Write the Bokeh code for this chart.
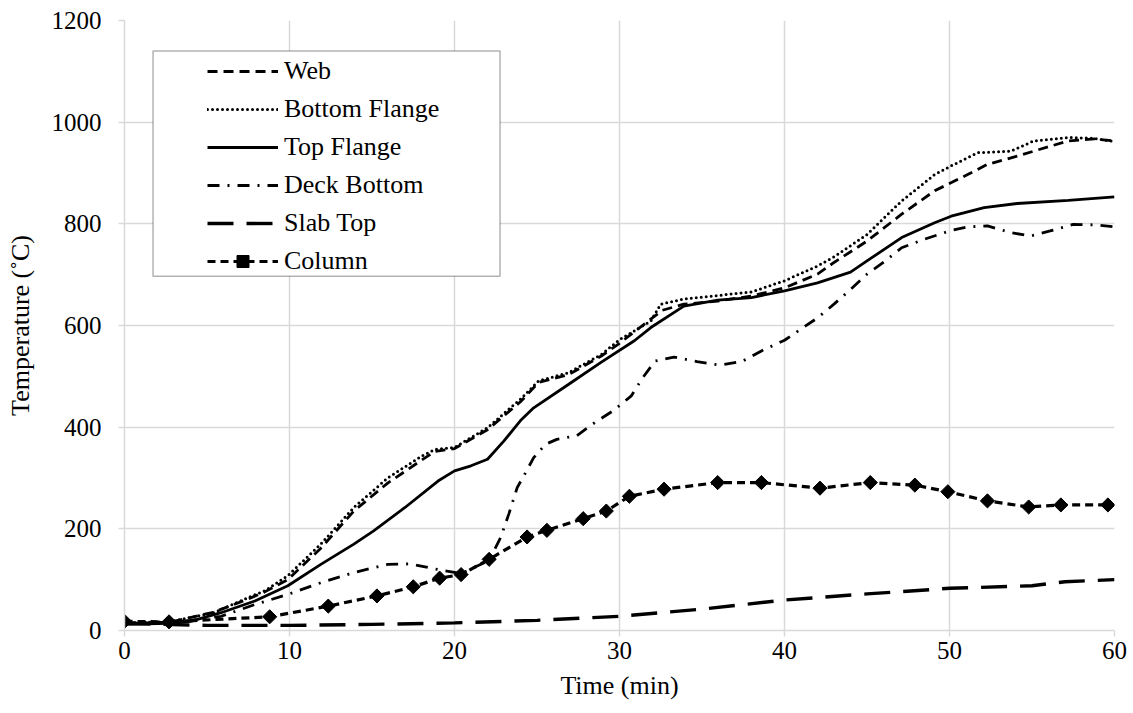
import math
from bokeh.plotting import figure
from bokeh.models import Legend, LegendItem, BoxAnnotation, FixedTicker
from bokeh.embed import file_html
from bokeh.resources import INLINE

# ---------------- data ----------------
web_t = [0, 2.7, 5.4, 7.5, 8.5, 9.9, 11.9, 13.9, 15.95, 18, 18.8, 20, 22, 24, 25.1, 26.9,
         28.9, 30, 31, 32.6, 33.9, 35.95, 38, 40, 42, 43, 45, 47.1, 49.1, 51.1, 52.3,
         54.1, 55.1, 57.2, 58.8, 60]
web_v = [14, 16, 36, 62, 76, 100, 162, 235, 290, 335, 352, 358, 395, 450, 488, 503,
         540, 565, 590, 630, 642, 648, 658, 674, 701, 724, 766, 819, 865, 897, 917,
         933, 943, 963, 967, 963]

bf_t = [0, 2.7, 5.4, 7.5, 8.5, 9.9, 11.9, 13.9, 15.95, 18, 18.8, 20, 22, 24, 25.1, 26.9,
        28.9, 30, 31.9, 32.5, 33.9, 35.95, 38, 40, 42, 43, 45, 47.1, 49.1, 50.1, 51.7,
        53.7, 55.1, 57.2, 58.8, 60]
bf_v = [15, 17, 35, 65, 78, 108, 170, 242, 300, 343, 356, 360, 399, 455, 491, 507,
        543, 572, 609, 642, 652, 659, 666, 688, 717, 735, 779, 845, 897, 914, 940,
        943, 963, 970, 968, 962]

tf_t = [0, 2.7, 4, 5.85, 7.9, 9.9, 11.9, 13.9, 15.1, 17, 19, 20, 21, 22, 23, 24, 24.8,
        26.9, 28.9, 30.9, 31.9, 33.9, 35.95, 38, 40, 42, 44, 45, 47.1, 49.1, 50.1,
        52.1, 54.1, 57.2, 60]
tf_v = [12, 14, 18, 35, 58, 88, 130, 170, 196, 242, 294, 314, 324, 337, 373, 413, 438,
        484, 528, 570, 596, 638, 650, 655, 668, 684, 705, 727, 773, 802, 815,
        832, 840, 846, 853]

deck_t = [0, 2.7, 4, 5.85, 7.9, 9.9, 11.9, 13.9, 15.95, 17.3, 19, 20.4, 22.1, 22.8, 23.3,
          23.8, 24.3, 24.8, 25.5, 26.2, 27.4, 28.5, 29.6, 30.7, 31.4, 32.15, 33.3, 34.7,
          36.1, 37.4, 38.6, 40, 42, 43, 44, 45, 46.1, 47.1, 48.5, 50.1, 51.1, 52.3,
          53.7, 54.9, 56.1, 57.5, 58.8, 60]
deck_v = [15, 16, 20, 28, 51, 71, 94, 114, 130, 131, 120, 112, 138, 183, 230,
          281, 310, 340, 366, 376, 383, 409, 432, 461, 497, 530, 538, 529,
          522, 529, 550, 571, 615, 642, 671, 701, 727, 753, 770, 787, 794, 796,
          783, 776, 786, 799, 798, 794]

slab_t = [0, 5, 10, 15, 20, 25, 30, 35, 40, 45, 50, 55, 57, 60]
slab_v = [14, 10, 10, 12, 15, 20, 28, 42, 60, 72, 83, 88, 96, 100]

col_t = [0, 2.7, 8.8, 12.35, 15.3, 17.5, 19.1, 20.4, 22.1, 24.4, 25.6, 27.8, 29.2, 30.6,
         32.7, 35.95, 38.6, 42.15, 45.2, 47.9, 49.9, 52.3, 54.8, 56.75, 59.6]
col_v = [18, 17, 27, 48, 68, 86, 103, 110, 140, 184, 197, 220, 235, 264,
         278, 291, 291, 280, 291, 286, 273, 255, 243, 247, 247]

x_ticks = [0, 10, 20, 30, 40, 50, 60]
y_ticks = [0, 200, 400, 600, 800, 1000, 1200]

FONT = "Times New Roman, Liberation Serif, DejaVu Serif, serif"
FS_TICK = "25px"
FS_TITLE = "26px"
FS_LEG = "26px"
GRID = "#d9d9d9"

p = figure(frame_width=990, frame_height=610, min_border_left=124, min_border_right=19,
           min_border_top=20, min_border_bottom=83,
           x_range=(0, 60), y_range=(0, 1200),
           output_backend="svg", toolbar_location=None)
p.outline_line_color = None
p.background_fill_color = "white"

for ax in (p.xaxis[0], p.yaxis[0]):
    ax.axis_line_color = GRID
    ax.axis_line_width = 1.5
    ax.major_tick_line_color = GRID
    ax.major_tick_line_width = 1.5
    ax.major_tick_out = 6
    ax.major_tick_in = 0
    ax.minor_tick_line_color = None
    ax.major_label_text_font = FONT
    ax.major_label_text_font_size = FS_TICK
    ax.major_label_text_color = "black"
    ax.axis_label_text_font = FONT
    ax.axis_label_text_font_size = FS_TITLE
    ax.axis_label_text_font_style = "normal"
    ax.axis_label_text_color = "black"

p.xaxis.ticker = FixedTicker(ticks=x_ticks)
p.yaxis.ticker = FixedTicker(ticks=y_ticks)
p.xaxis.axis_label = "Time (min)"
p.yaxis.axis_label = "Temperature (˚C)"
p.xaxis.major_label_standoff = 5
p.xaxis.axis_label_standoff = 9
p.yaxis.major_label_standoff = 17
p.yaxis.axis_label_standoff = 14

p.xgrid.grid_line_color = GRID
p.ygrid.grid_line_color = GRID
p.xgrid.grid_line_width = 1.5
p.ygrid.grid_line_width = 1.5

LW = 2.8
r_web = p.line(web_t, web_v, line_color="black", line_width=LW, line_dash="10 6")
r_bf = p.line(bf_t, bf_v, line_color="black", line_width=3, line_dash="0 5", line_cap="round")
r_tf = p.line(tf_t, tf_v, line_color="black", line_width=LW)
r_deck = p.line(deck_t, deck_v, line_color="black", line_width=LW, line_dash="12 8 2 8")
r_slab = p.line(slab_t, slab_v, line_color="black", line_width=3.4, line_dash="26 13")
r_col_l = p.line(col_t, col_v, line_color="black", line_width=3.2, line_dash="8 5")
r_col_m = p.scatter(col_t, col_v, marker="square", angle=math.pi / 4, size=10,
                    fill_color="black", line_color="black")

box = BoxAnnotation(left=1.73, right=22.76, bottom=697, top=1140,
                    fill_color="white", fill_alpha=1.0,
                    line_color="black", line_width=1.5, level="overlay")
p.add_layout(box)

legend = Legend(items=[
    LegendItem(label="Web", renderers=[r_web]),
    LegendItem(label="Bottom Flange", renderers=[r_bf]),
    LegendItem(label="Top Flange", renderers=[r_tf]),
    LegendItem(label="Deck Bottom", renderers=[r_deck]),
    LegendItem(label="Slab Top", renderers=[r_slab]),
    LegendItem(label="Column", renderers=[r_col_l, r_col_m]),
], location=(73, 344), orientation="vertical",
    glyph_width=71, glyph_height=30, label_height=30, label_standoff=6,
    spacing=8, padding=10, margin=0,
    border_line_alpha=0, background_fill_alpha=0,
    label_text_font=FONT, label_text_font_size=FS_LEG, label_text_color="black")
p.add_layout(legend, "center")

open("out.html", "w").write(file_html(p, INLINE))
